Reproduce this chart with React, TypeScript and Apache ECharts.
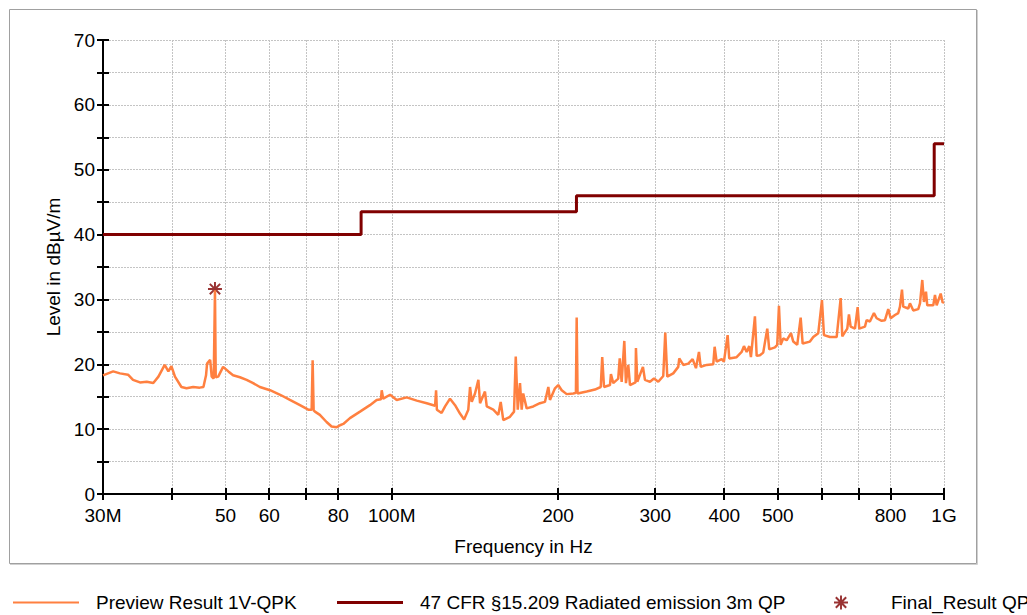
import React, { useEffect, useRef } from "react";
import * as echarts from "echarts";

// ---- data (frequencies in MHz, levels in dBµV/m) ----
const previewFreqMHz = [
  30.0, 31.3, 32.2, 33.3, 34.0, 35.0, 36.0, 37.0, 37.8, 38.8, 39.4, 39.9, 40.5, 41.6, 42.5, 43.7, 44.9, 45.6,
  46.1, 46.3, 46.9, 47.2, 47.6, 47.85, 48.0, 48.5, 49.5, 50.6, 51.6, 53.1, 54.6, 56.1, 57.7, 60.2, 62.8, 65.4,
  68.2, 70.6, 71.6, 71.9, 72.2, 72.6, 74.1, 76.2, 77.8, 79.5, 80.6, 81.7, 84.0, 87.6, 91.3, 93.9, 95.6, 95.9,
  96.5, 99.3, 102.1, 106.4, 111.0, 115.7, 119.8, 120.3, 120.7, 123.1, 124.9, 127.5, 130.2, 132.9, 135.2, 137.6,
  138.6, 139.6, 141.5, 143.5, 144.5, 147.5, 148.6, 152.7, 155.9, 157.5, 159.2, 163.7, 166.5, 167.7, 169.1, 170.7,
  171.9, 173.0, 175.5, 180.4, 185.5, 189.4, 192.1, 193.4, 197.5, 200.2, 203.1, 207.4, 213.2, 215.5, 216.2, 217.0,
  225.4, 233.3, 239.0, 240.5, 242.3, 248.4, 249.4, 251.8, 257.1, 258.7, 260.8, 263.7, 265.5, 268.1, 270.0, 276.3,
  276.8, 278.4, 285.0, 287.4, 293.5, 298.4, 303.8, 310.2, 312.8, 315.4, 323.4, 330.2, 331.6, 337.2, 344.3, 350.6,
  355.5, 360.0, 362.6, 371.7, 382.1, 384.3, 387.5, 395.7, 399.5, 405.7, 408.4, 421.2, 430.1, 434.3, 439.2, 444.0,
  447.1, 454.6, 457.9, 464.2, 470.6, 478.6, 482.6, 494.2, 498.9, 502.5, 506.1, 511.6, 518.9, 528.3, 533.4, 542.3,
  550.1, 554.7, 571.8, 579.8, 592.0, 601.2, 606.2, 621.6, 639.2, 650.0, 654.3, 668.1, 672.8, 677.6, 689.9, 697.7,
  702.3, 719.2, 724.3, 734.3, 746.7, 755.2, 771.1, 781.8, 792.6, 800.6, 815.1, 826.4, 832.3, 839.3, 843.8, 861.6,
  867.7, 879.8, 898.3, 904.7, 913.4, 919.9, 927.6, 932.6, 956.3, 963.1, 969.9, 986.3, 994.5, 1000,
];
const previewLevel = [
  18.3, 18.9, 18.6, 18.4, 17.6, 17.2, 17.3, 17.1, 18.1, 19.9, 18.9, 19.7, 18.1, 16.5, 16.3, 16.5, 16.4, 16.5,
  18.3, 20.1, 20.7, 18.1, 17.8, 31.4, 18.0, 18.1, 19.6, 18.9, 18.3, 18.0, 17.6, 17.1, 16.5, 16.0, 15.3, 14.5,
  13.7, 13.0, 13.0, 20.6, 12.9, 12.7, 12.2, 11.1, 10.4, 10.3, 10.6, 10.8, 11.7, 12.7, 13.7, 14.5, 14.6, 16.0,
  14.7, 15.3, 14.5, 14.9, 14.4, 14.0, 13.6, 16.0, 13.0, 12.5, 13.5, 14.7, 13.7, 12.4, 11.5, 13.0,
  16.5, 14.2, 15.5, 17.6, 14.0, 15.8, 13.5, 13.0, 12.2, 14.2, 11.4, 11.9, 12.7, 21.2, 13.0, 17.1,
  13.0, 15.5, 13.2, 13.5, 14.0, 14.2, 16.5, 14.5, 16.3, 16.8, 16.0, 15.4, 15.5, 15.6, 27.2, 15.5,
  15.8, 16.1, 16.5, 21.1, 16.5, 16.8, 18.5, 17.1, 17.8, 20.9, 17.3, 23.6, 17.1, 19.9, 16.8, 17.2,
  22.5, 17.3, 19.6, 17.6, 17.3, 17.8, 17.3, 18.2, 24.9, 18.1, 18.6, 19.6, 20.9, 19.9, 20.1, 20.8,
  19.4, 21.9, 19.6, 19.9, 20.0, 22.7, 20.4, 20.8, 20.4, 24.5, 20.9, 21.1, 21.9, 22.8, 21.9, 22.8,
  21.1, 27.4, 21.3, 21.4, 21.8, 25.5, 22.3, 22.6, 23.0, 29.0, 23.0, 24.0, 23.7, 24.8, 23.5, 23.0,
  27.2, 23.2, 23.5, 24.2, 24.8, 29.9, 24.5, 24.2, 24.2, 30.2, 24.3, 25.5, 27.7, 25.8, 25.5, 28.8,
  25.5, 25.8, 26.8, 26.6, 27.9, 27.1, 26.7, 26.8, 28.5, 27.1, 27.6, 27.9, 28.9, 31.5, 28.9, 28.6,
  29.4, 28.3, 28.5, 29.4, 33.0, 29.6, 31.2, 29.1, 29.1, 30.7, 29.1, 30.9, 29.5, 29.6,
];
const limitFreqMHz = [30, 88, 216, 960, 1000];
const limitLevel = [40, 43.5, 46, 54, 54];
const finalFreqMHz = [47.85];
const finalLevel = [31.6];

const xTickMHz = [30, 40, 50, 60, 70, 80, 100, 200, 300, 400, 500, 600, 700, 800, 1000];
const xLabelMHz = [30, 50, 60, 80, 100, 200, 300, 400, 500, 800, 1000];
const xLabelText = ["30M", "50", "60", "80", "100M", "200", "300", "400", "500", "800", "1G"];
const yMin = 0;
const yMax = 70;
const yTickStep = 5;
const yLabelStep = 10;

const seriesNames = [
  "Preview Result 1V-QPK",
  "47 CFR §15.209 Radiated emission 3m QP",
  "Final_Result QPK",
];

const FONT = "'Liberation Sans', Arial, sans-serif";
const FS = 19;
const ORANGE = "#FF8040";
const DARKRED = "#800000";
const STAR =
  "path://M0,8.6H20V11.4H0Z M8.6,0H11.4V20H8.6Z M3.6,1.6L18.4,16.4L16.4,18.4L1.6,3.6Z M18.4,3.6L3.6,18.4L1.6,16.4L16.4,1.6Z";

const lg = (f: number) => Math.log10(f);

export default function App() {
  const ref = useRef<HTMLDivElement>(null);

  useEffect(() => {
    if (!ref.current) return;
    const chart = echarts.init(ref.current, undefined, { renderer: "svg" });

    const xMin = lg(30);
    const xMax = lg(1000);
    const tickVals = xTickMHz.map(lg);
    const labelVals = xLabelMHz.map(lg);

    const xLabelFmt = (v: number) => {
      for (let i = 0; i < labelVals.length; i++) {
        if (Math.abs(labelVals[i] - v) < 1e-6) return xLabelText[i];
      }
      return "";
    };

    const legendText = {
      fontSize: FS,
      color: "#000",
      fontFamily: FONT,
      padding: [0, 0, 0, 12],
    };

    const gridLine = { color: "#c4c4c4", width: 1, type: [2, 1] };

    chart.setOption({
      animation: false,
      backgroundColor: "#fff",
      textStyle: { fontFamily: FONT },
      graphic: [
        {
          type: "rect",
          shape: { x: 9.5, y: 9.5, width: 967, height: 554 },
          style: { fill: "none", stroke: "#a0a0a0", lineWidth: 1 },
          silent: true,
        },
        {
          type: "polyline",
          shape: { points: [[977.5, 10], [977.5, 564.5], [10, 564.5]] },
          style: { fill: "none", stroke: "#d0d0d0", lineWidth: 1 },
          silent: true,
        },
      ],
      grid: { left: 103, right: 83, top: 40, bottom: 121, containLabel: false },
      legend: [
        {
          data: [seriesNames[0]],
          left: 8,
          top: 588,
          icon: "rect",
          itemWidth: 66,
          itemHeight: 2,
          itemStyle: { borderWidth: 0 },
          selectedMode: false,
          textStyle: legendText,
        },
        {
          data: [seriesNames[1]],
          left: 332,
          top: 588,
          icon: "rect",
          itemWidth: 66,
          itemHeight: 3,
          itemStyle: { borderWidth: 0 },
          selectedMode: false,
          textStyle: legendText,
        },
        {
          data: [seriesNames[2]],
          left: 829,
          top: 588,
          icon: STAR,
          itemWidth: 66,
          itemHeight: 14,
          itemStyle: { borderWidth: 0 },
          selectedMode: false,
          textStyle: legendText,
        },
      ],
      xAxis: [
        {
          type: "value",
          position: "bottom",
          min: xMin,
          max: xMax,
          name: "Frequency in Hz",
          nameLocation: "middle",
          nameGap: 43,
          nameTextStyle: { fontSize: FS, color: "#000", fontFamily: FONT },
          axisLine: { show: true, onZero: false, lineStyle: { color: "#000", width: 2 } },
          axisTick: {
            show: true,
            customValues: tickVals,
            length: 6,
            lineStyle: { color: "#000", width: 2 },
          },
          axisLabel: {
            show: true,
            customValues: labelVals,
            formatter: xLabelFmt,
            fontSize: FS,
            color: "#000",
            fontFamily: FONT,
            margin: 12,
          },
          splitLine: { show: true, lineStyle: gridLine },
        },
        {
          type: "value",
          position: "bottom",
          min: xMin,
          max: xMax,
          axisLine: { show: false },
          axisTick: {
            show: true,
            inside: true,
            customValues: tickVals,
            length: 6,
            lineStyle: { color: "#000", width: 2 },
          },
          axisLabel: { show: false },
          splitLine: { show: false },
        },
      ],
      yAxis: [
        {
          type: "value",
          position: "left",
          min: yMin,
          max: yMax,
          interval: yTickStep,
          name: "Level in dBµV/m",
          nameLocation: "middle",
          nameGap: 40,
          nameTextStyle: { fontSize: FS, color: "#000", fontFamily: FONT },
          axisLine: { show: true, onZero: false, lineStyle: { color: "#000", width: 2 } },
          axisTick: { show: true, length: 6, lineStyle: { color: "#000", width: 2 } },
          axisLabel: {
            formatter: (v: number) => (v % yLabelStep === 0 ? String(v) : ""),
            fontSize: FS,
            color: "#000",
            fontFamily: FONT,
            margin: 8,
          },
          splitLine: { show: true, lineStyle: gridLine },
        },
        {
          type: "value",
          position: "left",
          min: yMin,
          max: yMax,
          interval: yTickStep,
          axisLine: { show: false },
          axisTick: { show: true, inside: true, length: 6, lineStyle: { color: "#000", width: 2 } },
          axisLabel: { show: false },
          splitLine: { show: false },
        },
      ],
      series: [
        {
          name: seriesNames[0],
          type: "line",
          xAxisIndex: 0,
          yAxisIndex: 0,
          showSymbol: false,
          symbol: "none",
          color: ORANGE,
          lineStyle: { color: ORANGE, width: 2.5 },
          data: previewFreqMHz.map((f, i) => [lg(f), previewLevel[i]]),
        },
        {
          name: seriesNames[1],
          type: "line",
          xAxisIndex: 0,
          yAxisIndex: 0,
          step: "end",
          showSymbol: false,
          symbol: "none",
          color: DARKRED,
          lineStyle: { color: DARKRED, width: 3 },
          data: limitFreqMHz.map((f, i) => [lg(f), limitLevel[i]]),
        },
        {
          name: seriesNames[2],
          type: "scatter",
          xAxisIndex: 0,
          yAxisIndex: 0,
          symbol: STAR,
          symbolSize: 14,
          color: DARKRED,
          itemStyle: { color: DARKRED },
          data: finalFreqMHz.map((f, i) => [lg(f), finalLevel[i]]),
        },
      ],
    });

    return () => chart.dispose();
  }, []);

  return (
    <div
      ref={ref}
      style={{ position: "fixed", left: 0, top: 0, width: 1027, height: 615, background: "#fff" }}
    />
  );
}
